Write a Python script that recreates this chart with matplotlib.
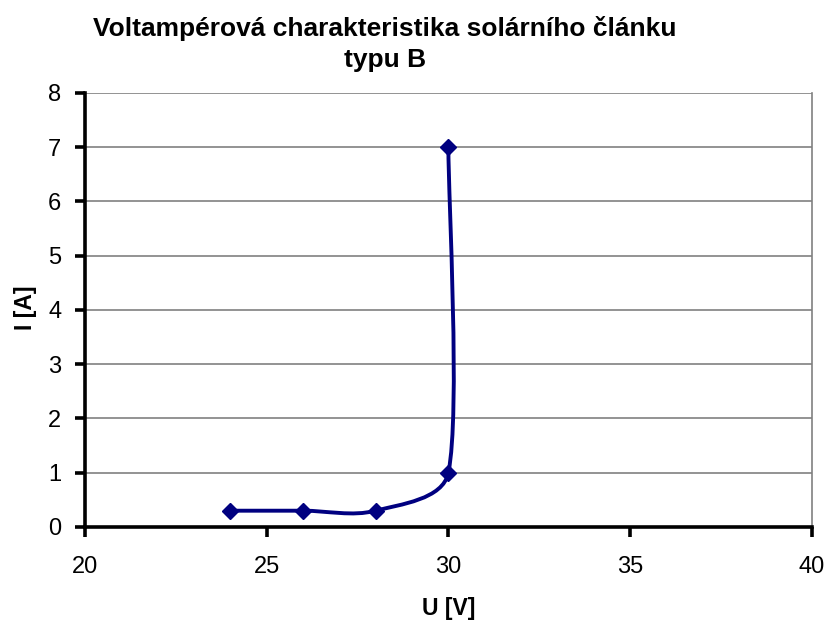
import numpy as np
import matplotlib.pyplot as plt
from matplotlib.path import Path
from matplotlib.patches import PathPatch

plt.rcParams['font.family'] = ['Liberation Sans', 'DejaVu Sans']

# measured points of the I-V curve
u_volts = [24, 26, 28, 30, 30]
i_amps = [0.3, 0.3, 0.3, 1, 7]

x_ticks = [20, 25, 30, 35, 40]
y_ticks = [0, 1, 2, 3, 4, 5, 6, 7, 8]

line_color = '#000080'


def smooth_path(ax, xs, ys):
    # Catmull-Rom style Bezier segments built in screen space,
    # handles limited to a third of the segment they belong to
    pts = ax.transData.transform(np.column_stack([xs, ys]).astype(float))
    ext = np.vstack([pts[0], pts, pts[-1]])
    verts = [pts[0]]
    codes = [Path.MOVETO]
    for k in range(len(pts) - 1):
        p0, p1, p2, p3 = ext[k], ext[k + 1], ext[k + 2], ext[k + 3]
        seg = np.hypot(*(p2 - p1))
        h1 = (p2 - p0) / 6
        h2 = (p3 - p1) / 6
        for h in (h1, h2):
            n = np.hypot(*h)
            if n > seg / 3:
                h *= seg / 3 / n
        verts += [p1 + h1, p2 - h2, p2]
        codes += [Path.CURVE4] * 3
    verts = ax.transData.inverted().transform(np.array(verts))
    return Path(verts, codes)


fig = plt.figure(figsize=(8.25, 6.21), dpi=100)
ax = fig.add_axes([0.103, 0.1514, 0.881, 0.699])

ax.set_xlim(20, 40)
ax.set_ylim(0, 8)
ax.set_xticks(x_ticks)
ax.set_yticks(y_ticks)

ax.grid(axis='y', color='#808080', linewidth=1.2)
ax.set_axisbelow(True)

ax.add_patch(PathPatch(smooth_path(ax, u_volts, i_amps), facecolor='none',
                       edgecolor=line_color, linewidth=2.8, zorder=3))
ax.plot(u_volts, i_amps, linestyle='none', marker='D', markersize=8.5,
        color=line_color, zorder=4)

for side in ['left', 'bottom']:
    ax.spines[side].set_linewidth(2.6)
    ax.spines[side].set_color('black')
ax.spines['right'].set_color('#808080')
ax.spines['right'].set_linewidth(1.2)
ax.spines['top'].set_visible(False)

ax.tick_params(axis='both', direction='out', length=7, width=2.6,
               labelsize=17, colors='black')
ax.tick_params(axis='x', pad=14)
ax.tick_params(axis='y', pad=10)

ax.set_xlabel('U [V]', fontsize=16.5, fontweight='bold')
ax.set_ylabel('I [A]', fontsize=16.5, fontweight='bold')
ax.xaxis.set_label_coords(0.5, -0.162)
ax.yaxis.set_label_coords(-0.066, 0.505)

fig.text(385 / 825, 0.975, 'Voltampérová charakteristika solárního článku\ntypu B',
         ha='center', va='top', fontsize=19, fontweight='bold',
         linespacing=1.38)

fig.savefig('out.png', dpi=100)
